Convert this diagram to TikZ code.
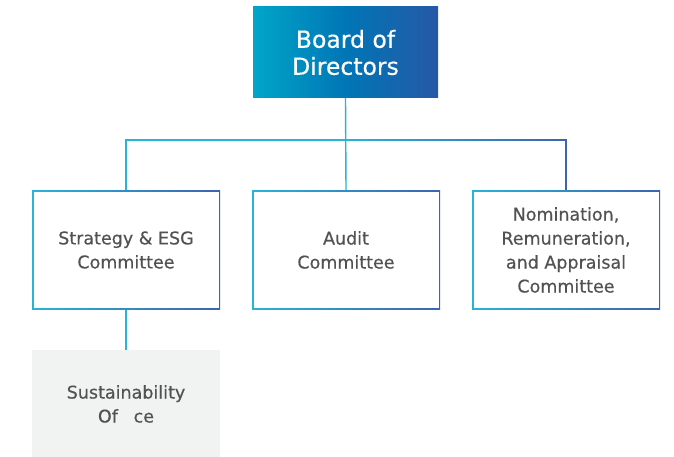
\documentclass[tikz,border=0pt]{standalone}
\usepackage{fontspec}
\setmainfont{DejaVu Sans}[FakeBold=0.4]
\begin{document}
\definecolor{tealL}{RGB}{0,166,200}
\definecolor{blueM}{RGB}{0,118,182}
\definecolor{blueR}{RGB}{38,88,166}
\definecolor{lineC}{RGB}{40,180,215}
\definecolor{lineB}{RGB}{62,100,174}
\definecolor{txtG}{RGB}{82,82,82}
\definecolor{paleG}{RGB}{241,242,242}
\begin{tikzpicture}[x=1pt,y=1pt,
  board/.style={minimum width=185pt,minimum height=91pt,inner sep=0pt,
    left color=tealL,right color=blueR,middle color=blueM,
    text=white,font=\fontsize{23.5}{27}\selectfont,align=center},
  committee/.style={minimum width=188pt,minimum height=119pt,inner sep=0pt,
    text=txtG,font=\fontsize{17.5}{24}\selectfont,align=center,
    path picture={
      \shade[left color=lineC,right color=lineB]
        (path picture bounding box.south west) rectangle (path picture bounding box.north east);
      \fill[white]
        ([shift={(1.5pt,1.5pt)}]path picture bounding box.south west) rectangle
        ([shift={(-1.5pt,-1.5pt)}]path picture bounding box.north east);}},
  office/.style={minimum width=188pt,minimum height=107pt,inner sep=0pt,
    fill=paleG,text=txtG,font=\fontsize{17.5}{24}\selectfont,align=center},
  link/.style={draw=lineC,line width=1.4pt}]
\useasboundingbox (0,0) rectangle (674,457);

% nodes
\node[board] (board) at (345.5,404.5) {Board of\\Directors};
\node[committee] (strategy) at (126,207) {Strategy \& ESG\\Committee};
\node[committee] (audit) at (346,207) {Audit\\Committee};
\node[committee] (nomination) at (566,207) {Nomination,\\Remuneration,\\and Appraisal\\Committee};
\node[office] (office) at (126,53) {Sustainability\\Of\hspace{0.9em}ce};

% bus bar below the board
\coordinate (bus) at (board.south |- 0,317);
\draw[link] (board.south) -- (audit.north);
\draw[link] (bus) -| (strategy.north);
\shade[left color=lineC,right color=lineB]
  ([yshift=-0.7pt]bus) rectangle ([yshift=0.7pt]nomination.north |- bus);
\draw[draw=lineB,line width=1.4pt] ([yshift=0.7pt]nomination.north |- bus) -- (nomination.north);
\draw[link] (strategy.south) -- (office.north);
\end{tikzpicture}
\end{document}
